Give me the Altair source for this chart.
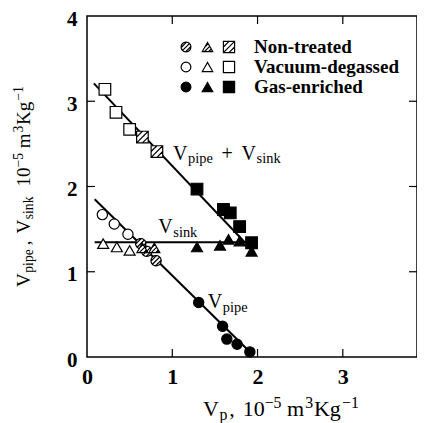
import math
import altair as alt
import pandas as pd

# ---------------- data ----------------
# Vacuum-degassed (open symbols)
vd_pipe_x = [0.18, 0.32, 0.48]
vd_pipe_y = [1.67, 1.56, 1.44]
vd_sink_x = [0.19, 0.35, 0.50]
vd_sink_y = [1.33, 1.29, 1.25]
vd_sum_x = [0.21, 0.34, 0.50]
vd_sum_y = [3.14, 2.87, 2.67]
# Non-treated (hatched symbols)
nt_pipe_x = [0.63, 0.70, 0.81]
nt_pipe_y = [1.33, 1.24, 1.13]
nt_sink_x = [0.65, 0.79]
nt_sink_y = [1.28, 1.28]
nt_sum_x = [0.65, 0.82]
nt_sum_y = [2.58, 2.41]
# Gas-enriched (filled symbols)
ge_pipe_x = [1.31, 1.59, 1.64, 1.76, 1.91]
ge_pipe_y = [0.64, 0.36, 0.21, 0.15, 0.06]
ge_sink_x = [1.29, 1.56, 1.66, 1.79, 1.93]
ge_sink_y = [1.29, 1.31, 1.38, 1.36, 1.24]
ge_sum_x = [1.29, 1.60, 1.68, 1.79, 1.93]
ge_sum_y = [1.97, 1.73, 1.69, 1.53, 1.34]

# fitted lines (end points)
sum_line_x = [0.08, 1.95]
sum_line_y = [3.21, 1.24]
sink_line_x = [0.09, 1.99]
sink_line_y = [1.345, 1.345]
pipe_line_x = [0.09, 1.95]
pipe_line_y = [1.85, 0.02]

# curve labels: pieces (text, role) with role n=normal, b=subscript, p=superscript
label_parts = [
    [("V", "n"), ("pipe", "b"), ("+", "op"), ("V", "n"), ("sink", "b")],
    [("V", "n"), ("sink", "b")],
    [("V", "n"), ("pipe", "b")],
]
label_x = [1.01, 0.836, 1.416]
label_y = [2.31, 1.451, 0.571]

x_title_parts = [("V", "n"), ("p", "b"), (",", "n"), (" ", "n"), ("10", "n"), ("−5", "p"),
                 ("m", "n"), ("3", "p"), ("Kg", "n"), ("−1", "p")]
y_title_parts = [("V", "n"), ("pipe", "b"), (",", "n"), (" ", "n"), ("V", "n"), ("sink", "b"),
                 (" ", "n"), ("10", "n"), ("−5", "p"), ("m", "n"), ("3", "p"), ("Kg", "n"), ("−1", "p")]

x_tick_values = [0, 1, 2, 3]
y_tick_values = [0, 1, 2, 3, 4]
inner_ticks = [1, 2, 3]

treat_names = ["Non-treated", "Vacuum-degassed", "Gas-enriched"]
treat_keys = ["hatched", "open", "filled"]
kind_keys = ["circle", "triangle", "square"]

# ---------------- tables ----------------
rows = []
def add(xs_, ys_, kind, treat):
    for a, b in zip(xs_, ys_):
        rows.append({"x": a, "y": b, "kind": kind, "treat": treat, "key": kind + "-" + treat})

add(vd_pipe_x, vd_pipe_y, "circle", "open")
add(vd_sink_x, vd_sink_y, "triangle", "open")
add(vd_sum_x, vd_sum_y, "square", "open")
add(nt_pipe_x, nt_pipe_y, "circle", "hatched")
add(nt_sink_x, nt_sink_y, "triangle", "hatched")
add(nt_sum_x, nt_sum_y, "square", "hatched")
add(ge_pipe_x, ge_pipe_y, "circle", "filled")
add(ge_sink_x, ge_sink_y, "triangle", "filled")
add(ge_sum_x, ge_sum_y, "square", "filled")
pts = pd.DataFrame(rows)

lines = pd.DataFrame(
    [{"x": a, "y": b, "line": "sum"} for a, b in zip(sum_line_x, sum_line_y)]
    + [{"x": a, "y": b, "line": "sink"} for a, b in zip(sink_line_x, sink_line_y)]
    + [{"x": a, "y": b, "line": "pipe"} for a, b in zip(pipe_line_x, pipe_line_y)]
)

leg = pd.DataFrame([
    {"col": ci, "row": ri, "kind": k, "key": k + "-" + t}
    for ri, t in enumerate(treat_keys) for ci, k in enumerate(kind_keys)
])
leg_txt = pd.DataFrame({"row": list(range(len(treat_names))), "name": treat_names})

# ---------------- rich-text layout helper (style) ----------------
CM = {'V': 0.75, 'p': 0.556, 'i': 0.278, 'e': 0.444, 's': 0.394, 'n': 0.556, 'k': 0.528,
      ',': 0.278, ' ': 0.333, '0': 0.5, '1': 0.5, '5': 0.5, '3': 0.5, 'm': 0.833,
      'K': 0.778, 'g': 0.5, '−': 0.778, '+': 0.778}

def layout(parts, S):
    s = 0.72 * S
    out = []
    cur = 0.0
    for text, role in parts:
        if role == "op":
            cur += 0.222 * S
            out.append((text, S, cur, 0.0))
            cur += CM[text] * S + 0.222 * S
            continue
        if role == "n":
            size, shift, fw = S, 0.0, 1.0
        elif role == "b":
            size, shift, fw = s, 0.16 * S, 1.1
        else:
            size, shift, fw = s, -0.38 * S, 1.1
        if text.strip():
            out.append((text, size, cur, shift))
        cur += sum(CM[c] for c in text) * size * fw
    return out

serif = "Liberation Serif"
W, H = 330, 341
xs = alt.Scale(domain=[0, 3.87], nice=False)
ys = alt.Scale(domain=[0, 4], nice=False)

x_axis = alt.Axis(
    values=x_tick_values, format="d", title=None, grid=False, ticks=False, domain=False,
    labelFont=serif, labelFontWeight="bold", labelFontSize=22, labelColor="black",
    labelPadding=9, labelFlush=False,
)
y_axis = alt.Axis(
    values=y_tick_values, format="d", title=None, grid=False, ticks=False, domain=False,
    labelFont=serif, labelFontWeight="bold", labelFontSize=21, labelColor="black",
    labelPadding=10, labelFlush=False, labelOffset=3,
)

line_layer = alt.Chart(lines).mark_line(color="black", strokeWidth=2).encode(
    x=alt.X("x:Q", scale=xs, axis=x_axis),
    y=alt.Y("y:Q", scale=ys, axis=y_axis),
    detail="line:N",
)

# symbol shapes
circ = "M" + "L".join(
    f"{math.cos(2*math.pi*i/28):.3f},{math.sin(2*math.pi*i/28):.3f}" for i in range(28)
) + "Z"
hatch_circle = circ + " M-0.707,0.707L0.707,-0.707 M-0.095,0.995L0.995,-0.095 M-0.995,0.095L0.095,-0.995"
hatch_square = "M-1,-1L1,-1L1,1L-1,1Z M-1,0L0,-1 M-1,1L1,-1 M0,1L1,0"
hatch_tri = "M0,-0.866L-1,0.866L1,0.866Z M-0.5,0L0.134,-0.634 M-0.566,0.866L0.427,-0.127 M0.234,0.866L0.72,0.38"
base_shape = {"circle": "circle", "triangle": "triangle-up", "square": "square"}
hatch_shape = {"circle": hatch_circle, "triangle": hatch_tri, "square": hatch_square}
key_domain, key_shapes, key_fill = [], [], []
for k in kind_keys:
    for t in treat_keys:
        key_domain.append(k + "-" + t)
        key_shapes.append(hatch_shape[k] if t == "hatched" else base_shape[k])
        key_fill.append("black" if t == "filled" else "white")
shape_enc = alt.Shape("key:N", scale=alt.Scale(domain=key_domain, range=key_shapes), legend=None)
fill_enc = alt.Fill("key:N", scale=alt.Scale(domain=key_domain, range=key_fill), legend=None)
size_enc = alt.Size("kind:N", scale=alt.Scale(domain=kind_keys, range=[105, 135, 100]), legend=None)

pt_layer = alt.Chart(pts).mark_point(filled=False, stroke="black", strokeWidth=1.2, opacity=1).encode(
    x=alt.X("x:Q", scale=xs), y=alt.Y("y:Q", scale=ys),
    shape=shape_enc, fill=fill_enc, size=size_enc,
)

label_layers = []
for parts, lx, ly in zip(label_parts, label_x, label_y):
    for text, size, along, shift in layout(parts, 20):
        label_layers.append(
            alt.Chart(pd.DataFrame({"x": [lx], "y": [ly], "t": [text]})).mark_text(
                font=serif, fontSize=size, align="left", baseline="alphabetic",
                color="black", dx=along, dy=shift,
            ).encode(x=alt.X("x:Q", scale=xs), y=alt.Y("y:Q", scale=ys), text="t:N")
        )

tk = alt.Chart(pd.DataFrame({"v": inner_ticks}))
tx_b = tk.mark_rule(color="black", strokeWidth=1.2).encode(x=alt.X("v:Q", scale=xs), y=alt.value(H), y2=alt.value(H - 8))
tx_t = tk.mark_rule(color="black", strokeWidth=1.2).encode(x=alt.X("v:Q", scale=xs), y=alt.value(0), y2=alt.value(8))
ty_l = tk.mark_rule(color="black", strokeWidth=1.2).encode(y=alt.Y("v:Q", scale=ys), x=alt.value(0), x2=alt.value(8))
ty_r = tk.mark_rule(color="black", strokeWidth=1.2).encode(y=alt.Y("v:Q", scale=ys), x=alt.value(W), x2=alt.value(W - 8))

main = alt.layer(line_layer, tx_b, tx_t, ty_l, ty_r, pt_layer, *label_layers)

# axis titles as rich text (pixel layout relative to the plot area)
title_layers = []
for text, size, along, shift in layout(x_title_parts, 22):
    title_layers.append(
        alt.Chart(pd.DataFrame({"t": [text]})).mark_text(
            font=serif, fontSize=size, align="left", baseline="alphabetic", color="black"
        ).encode(x=alt.value(116 + along), y=alt.value(H + 59 + shift), text="t:N")
    )
for text, size, along, shift in layout(y_title_parts, 19):
    title_layers.append(
        alt.Chart(pd.DataFrame({"t": [text]})).mark_text(
            font=serif, fontSize=size, align="left", baseline="alphabetic", color="black", angle=270
        ).encode(x=alt.value(-57 + shift), y=alt.value(271 - along), text="t:N")
    )

# legend drawn inside the plot (pixel layout = style)
leg_x = alt.X("col:Q", scale=alt.Scale(domain=[0, 2], range=[99, 142], nice=False, zero=False), axis=None)
leg_y = alt.Y("row:Q", scale=alt.Scale(domain=[0, 2], range=[31, 71], nice=False, zero=False), axis=None)
leg_pts = alt.Chart(leg).mark_point(filled=False, stroke="black", strokeWidth=1.2, opacity=1).encode(
    x=leg_x, y=leg_y, shape=shape_enc, fill=fill_enc,
    size=alt.Size("kind:N", scale=alt.Scale(domain=kind_keys, range=[95, 125, 90]), legend=None),
)
leg_text = alt.Chart(leg_txt).mark_text(
    font=serif, fontWeight="bold", fontSize=19, align="left", baseline="middle", color="black"
).encode(x=alt.value(167), y=leg_y, text="name:N")
legend = alt.layer(leg_pts, leg_text, *title_layers)

chart = alt.layer(main, legend).resolve_scale(
    x="independent", y="independent", shape="independent", fill="independent", size="independent"
).properties(
    width=W, height=H,
    autosize=alt.AutoSizeParams(type="none"),
    padding={"left": 79, "top": 8, "right": 0, "bottom": 66},
).configure(
    background="white",
    view=alt.ViewConfig(stroke="black", strokeWidth=1.5),
)

chart.save("out.html", embed_options={"renderer": "svg", "actions": False})
